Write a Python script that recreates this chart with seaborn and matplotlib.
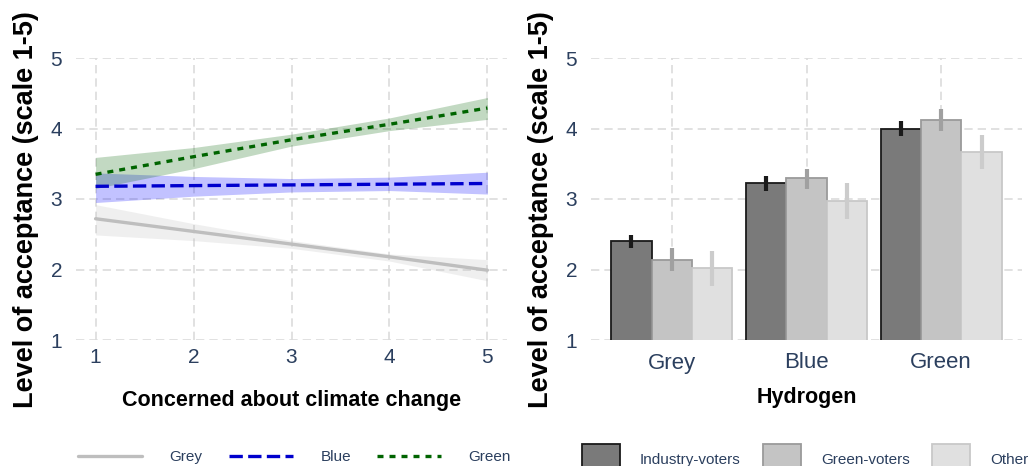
import matplotlib
matplotlib.use('Agg')
import matplotlib.pyplot as plt
import seaborn as sns
import pandas as pd
from matplotlib.lines import Line2D
from matplotlib.patches import Patch

# 左图: 拟合线与置信带
concern = [1, 2, 3, 4, 5]
grey_fit = [2.72, 2.54, 2.36, 2.18, 1.99]
grey_lo = [2.49, 2.41, 2.30, 2.12, 1.84]
grey_hi = [2.92, 2.65, 2.41, 2.22, 2.14]
blue_fit = [3.18, 3.19, 3.20, 3.21, 3.22]
blue_lo = [2.95, 3.04, 3.10, 3.12, 3.07]
blue_hi = [3.37, 3.32, 3.29, 3.31, 3.38]
green_fit = [3.35, 3.60, 3.84, 4.06, 4.29]
green_lo = [3.15, 3.43, 3.75, 3.97, 4.13]
green_hi = [3.59, 3.73, 3.92, 4.15, 4.44]

# 右图: 柱状图
hydrogen = ['Grey', 'Blue', 'Green']
voters = ['Industry-voters', 'Green-voters', 'Other']
industry_mean = [2.40, 3.22, 4.00]
industry_lo = [2.30, 3.11, 3.90]
industry_hi = [2.49, 3.32, 4.11]
greenv_mean = [2.14, 3.30, 4.12]
greenv_lo = [1.98, 3.14, 3.97]
greenv_hi = [2.30, 3.43, 4.27]
other_mean = [2.02, 2.97, 3.66]
other_lo = [1.77, 2.71, 3.42]
other_hi = [2.26, 3.22, 3.91]

sns.set_theme(style='white')
plt.rcParams['font.family'] = ['Liberation Sans', 'DejaVu Sans']
plt.rcParams['axes.labelcolor'] = 'black'

TICK_COLOR = '#2b3f5e'
GRID = dict(color='#dcdcdc', linestyle=(0, (5, 3)), linewidth=1.2)

fig = plt.figure(figsize=(10.32, 4.66), dpi=100)
ax1 = fig.add_axes([76 / 1032, 1 - 340 / 466, 431 / 1032, 282 / 466])
ax2 = fig.add_axes([591 / 1032, 1 - 340 / 466, 431 / 1032, 282 / 466])

# ---- 左图 ----
series = [
    ('Grey', grey_fit, grey_lo, grey_hi, '#bebebe', '#bebebe', '-'),
    ('Blue', blue_fit, blue_lo, blue_hi, '#0000cd', '#0000ff', (0, (4, 1.6))),
    ('Green', green_fit, green_lo, green_hi, '#006400', '#006400', (0, (1.8, 1.8))),
]
for name, fit, lo, hi, lc, fc, ls in series:
    ax1.fill_between(concern, lo, hi, color=fc, alpha=0.24, linewidth=0)
for name, fit, lo, hi, lc, fc, ls in series:
    sns.lineplot(x=concern, y=fit, ax=ax1, color=lc, linewidth=2.4, linestyle=ls)

ax1.set_xlim(0.8, 5.2)
ax1.set_ylim(1, 5)
ax1.set_xticks([1, 2, 3, 4, 5])
ax1.set_yticks([1, 2, 3, 4, 5])
ax1.set_xlabel('Concerned about climate change', fontsize=15.5, fontweight='bold',
               labelpad=16, color='black')
ax1.set_ylabel('Level of acceptance (scale 1-5)', fontsize=19.5, fontweight='bold',
               labelpad=8, y=0.461, color='black')

# ---- 右图 ----
rows = []
for i, h in enumerate(hydrogen):
    rows.append({'Hydrogen': h, 'Voter': voters[0], 'mean': industry_mean[i], 'lo': industry_lo[i], 'hi': industry_hi[i]})
    rows.append({'Hydrogen': h, 'Voter': voters[1], 'mean': greenv_mean[i], 'lo': greenv_lo[i], 'hi': greenv_hi[i]})
    rows.append({'Hydrogen': h, 'Voter': voters[2], 'mean': other_mean[i], 'lo': other_lo[i], 'hi': other_hi[i]})
bar_df = pd.DataFrame(rows)

fills = ['#7a7a7a', '#c4c4c4', '#e0e0e0']
edges = ['#1a1a1a', '#9a9a9a', '#c8c8c8']
err_cols = ['#1a1a1a', '#a0a0a0', '#cccccc']
sns.barplot(data=bar_df, x='Hydrogen', y='mean', hue='Voter', order=hydrogen, hue_order=voters,
            palette=fills, width=0.9, errorbar=None, legend=False, ax=ax2, zorder=2)

for k, cont in enumerate(ax2.containers):
    sub = bar_df[bar_df['Voter'] == voters[k]].set_index('Hydrogen').loc[hydrogen]
    for patch, (_, r) in zip(cont.patches, sub.iterrows()):
        patch.set_edgecolor(edges[k])
        patch.set_linewidth(1.3)
        cx = patch.get_x() + patch.get_width() / 2
        ax2.vlines(cx, r['lo'], r['hi'], color=err_cols[k], linewidth=3, zorder=3)

ax2.set_xlim(-0.6, 2.6)
ax2.set_ylim(1, 5)
ax2.set_yticks([1, 2, 3, 4, 5])
ax2.set_xlabel('Hydrogen', fontsize=15.5, fontweight='bold', labelpad=10, color='black')
ax2.set_ylabel('Level of acceptance (scale 1-5)', fontsize=19.5, fontweight='bold',
               labelpad=8, y=0.461, color='black')

for ax in (ax1, ax2):
    for s in ax.spines.values():
        s.set_visible(False)
    ax.grid(True, **GRID)
    ax.set_axisbelow(True)
    ax.tick_params(axis='both', length=0, labelsize=15, labelcolor=TICK_COLOR)
    ax.tick_params(axis='y', pad=10)
    ax.tick_params(axis='x', pad=6)
ax2.tick_params(axis='x', labelsize=16, pad=9)

# ---- 图例 ----
line_handles = [Line2D([], [], color=lc, linewidth=2.4, linestyle=ls) for _, _, _, _, lc, _, ls in series]
fig.legend(line_handles, ['Grey', 'Blue', 'Green'], loc='center left',
           bbox_to_anchor=(78 / 1032, 1 - 457 / 466), ncol=3, frameon=False,
           fontsize=11, handlelength=4.2, handletextpad=1.8, columnspacing=1.7,
           borderpad=0, borderaxespad=0, labelcolor=TICK_COLOR)

bar_handles = [Patch(facecolor=fills[k], edgecolor=edges[k], linewidth=1.3) for k in range(3)]
fig.legend(bar_handles, voters, loc='center left',
           bbox_to_anchor=(582 / 1032, 1 - 459 / 466), ncol=3, frameon=False,
           fontsize=11, handlelength=2.5, handleheight=2.6, handletextpad=1.3, columnspacing=1.45,
           borderpad=0, borderaxespad=0, labelcolor=TICK_COLOR)

fig.savefig('out.png', dpi=100, facecolor='white')
